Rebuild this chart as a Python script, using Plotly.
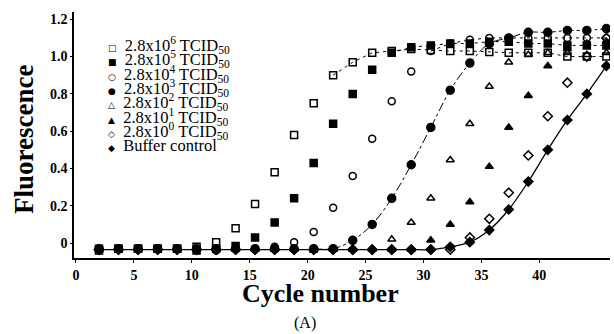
import plotly.graph_objects as go

# ---------------- data ----------------
cycles = [1.99, 3.67, 5.36, 7.05, 8.73, 10.41, 12.10, 13.78, 15.46, 17.15,
          18.83, 20.52, 22.20, 23.89, 25.57, 27.26, 28.94, 30.63, 32.31,
          34.00, 35.68, 37.36, 39.05, 40.73, 42.42, 44.10, 45.79]

s_e6 = [-0.04, -0.03, -0.03, -0.03, -0.03, -0.02, 0.005, 0.08, 0.21, 0.38,
        0.58, 0.75, 0.90, 0.97, 1.02, 1.03, 1.04, 1.035, 1.03, 1.03,
        1.025, 1.02, 1.02, 1.02, 1.00, 1.00, 1.00]
s_e5 = [-0.03, -0.03, -0.03, -0.03, -0.03, -0.04, -0.03, -0.015, 0.03, 0.11,
        0.24, 0.43, 0.64, 0.80, 0.93, 1.02, 1.05, 1.06, 1.07, 1.07,
        1.08, 1.08, 1.07, 1.07, 1.06, 1.06, 1.06]
s_e4 = [-0.03, -0.03, -0.03, -0.03, -0.03, -0.03, -0.04, -0.03, -0.03, -0.02,
        0.005, 0.06, 0.19, 0.36, 0.56, 0.76, 0.92, 1.03, 1.07, 1.09,
        1.10, 1.10, 1.10, 1.10, 1.10, 1.10, 1.10]
s_e3 = [-0.03, -0.03, -0.03, -0.03, -0.03, -0.03, -0.03, -0.03, -0.03, -0.03,
        -0.03, -0.03, -0.03, 0.015, 0.10, 0.24, 0.42, 0.62, 0.82, 0.965,
        1.07, 1.10, 1.13, 1.13, 1.14, 1.14, 1.15]
s_e2 = [-0.03, -0.03, -0.03, -0.03, -0.03, -0.03, -0.03, -0.03, -0.03, -0.03,
        -0.03, -0.03, -0.03, -0.03, -0.03, 0.02, 0.11, 0.24, 0.445, 0.64,
        0.84, 0.97, 1.01, 1.02, 1.02, 1.01, 1.02]
s_e1 = [-0.035, -0.035, -0.035, -0.035, -0.035, -0.035, -0.035, -0.035, -0.035, -0.035,
        -0.035, -0.04, -0.035, -0.035, -0.035, -0.035, -0.035, 0.015, 0.10, 0.22,
        0.41, 0.62, 0.79, 0.95, 1.04, 1.07, 1.08]
s_e0 = [-0.035, -0.035, -0.035, -0.035, -0.035, -0.035, -0.035, -0.035, -0.035, -0.035,
        -0.035, -0.035, -0.035, -0.035, -0.035, -0.035, -0.035, -0.035, -0.035, 0.03,
        0.13, 0.27, 0.47, 0.68, 0.86, 1.00, 1.10]
s_buf = [-0.035, -0.035, -0.035, -0.035, -0.035, -0.035, -0.035, -0.035, -0.035, -0.035,
         -0.035, -0.035, -0.035, -0.035, -0.035, -0.035, -0.035, -0.035, -0.02, 0.005,
         0.07, 0.18, 0.33, 0.50, 0.66, 0.80, 0.95]

labels = ["2.8x10<sup>6</sup> TCID<sub>50</sub>",
          "2.8x10<sup>5</sup> TCID<sub>50</sub>",
          "2.8x10<sup>4</sup> TCID<sub>50</sub>",
          "2.8x10<sup>3</sup> TCID<sub>50</sub>",
          "2.8x10<sup>2</sup> TCID<sub>50</sub>",
          "2.8x10<sup>1</sup> TCID<sub>50</sub>",
          "2.8x10<sup>0</sup> TCID<sub>50</sub>",
          "Buffer control"]
legend_glyphs = ["□", "■", "○", "●", "△", "▲", "◇", "◆"]

x_ticks = [0, 5, 10, 15, 20, 25, 30, 35, 40]
y_ticks = [0, 0.2, 0.4, 0.6, 0.8, 1.0, 1.2]
y_ticktext = ["0", "0.2", "0.4", "0.6", "0.8", "1.0", "1.2"]

series = [s_e6, s_e5, s_e4, s_e3, s_e2, s_e1, s_e0, s_buf]
symbols = ["square-open", "square", "circle-open", "circle",
           "triangle-up-open", "triangle-up", "diamond-open", "diamond"]
sizes = [7, 7, 7, 8, 7, 7, 7, 7]

# ---------------- figure ----------------
fig = go.Figure()
BLACK = "#000000"

# fitted / connecting lines
fig.add_trace(go.Scatter(x=cycles[12:], y=s_e6[12:], mode="lines",
                         line=dict(color=BLACK, width=1, dash="3px,4px"),
                         hoverinfo="skip", showlegend=False))
fig.add_trace(go.Scatter(x=cycles[15:], y=s_e5[15:], mode="lines",
                         line=dict(color=BLACK, width=1, dash="3px,4px"),
                         hoverinfo="skip", showlegend=False))
fig.add_trace(go.Scatter(x=cycles[17:], y=s_e4[17:], mode="lines",
                         line=dict(color=BLACK, width=1, dash="3px,4px"),
                         hoverinfo="skip", showlegend=False))
fig.add_trace(go.Scatter(x=cycles[11:], y=s_e3[11:], mode="lines",
                         line=dict(color=BLACK, width=1, dash="dashdot", shape="spline"),
                         hoverinfo="skip", showlegend=False))
fig.add_trace(go.Scatter(x=cycles, y=s_buf, mode="lines",
                         line=dict(color=BLACK, width=1.3, shape="spline"),
                         hoverinfo="skip", showlegend=False))

for ys, sym, sz, lab in zip(series, symbols, sizes, labels):
    fig.add_trace(go.Scatter(
        x=cycles, y=ys, mode="markers", name=lab, showlegend=False,
        marker=dict(symbol=sym, size=sz, color=BLACK,
                    line=dict(color=BLACK, width=1.5)),
    ))

# plot geometry (pixels)
L, R, T, B = 74, 4, 12, 76
W, H = 614, 334
pw, ph = W - L - R, H - T - B

def px_x(px):
    return (px - L) / pw

def px_y(py):
    return (H - B - py) / ph

annotations = []
# custom legend (compact spacing as in the reference)
for k, (g, lab) in enumerate(zip(legend_glyphs, labels)):
    annotations.append(dict(
        xref="paper", yref="paper", x=px_x(106), y=px_y(45 + 14.3 * k),
        xanchor="left", yanchor="middle", showarrow=False,
        text=f'<span style="font-family:DejaVu Sans;font-size:9px">{g}</span>  {lab}',
        font=dict(family="Liberation Serif", size=16.5, color=BLACK),
    ))

annotations.append(dict(
    xref="paper", yref="paper", x=px_x(320), y=px_y(293),
    xanchor="center", yanchor="middle", showarrow=False,
    text="<b>Cycle number</b>",
    font=dict(family="Liberation Serif", size=26, color=BLACK)))
annotations.append(dict(
    xref="paper", yref="paper", x=px_x(24), y=px_y(140),
    xanchor="center", yanchor="middle", showarrow=False, textangle=-90,
    text="<b>Fluorescence</b>",
    font=dict(family="Liberation Serif", size=27, color=BLACK)))
annotations.append(dict(
    xref="paper", yref="paper", x=px_x(305), y=px_y(323),
    xanchor="center", yanchor="middle", showarrow=False,
    text="(A)",
    font=dict(family="Liberation Serif", size=16, color=BLACK)))

fig.update_layout(
    width=W, height=H,
    margin=dict(l=L, r=R, t=T, b=B, pad=0),
    paper_bgcolor="white", plot_bgcolor="white",
    showlegend=False,
    annotations=annotations,
    xaxis=dict(range=[-0.17, 46.1], tickvals=x_ticks,
               ticktext=[str(v) for v in x_ticks],
               showline=True, linecolor=BLACK, linewidth=1.5,
               ticks="outside", ticklen=3, tickcolor=BLACK,
               showgrid=False, zeroline=False,
               tickfont=dict(family="Liberation Serif", size=14, color=BLACK,
                             weight="bold")),
    yaxis=dict(range=[-0.080, 1.239], tickvals=y_ticks, ticktext=y_ticktext,
               showline=True, linecolor=BLACK, linewidth=1.5,
               ticks="outside", ticklen=2, tickcolor=BLACK,
               showgrid=False, zeroline=False,
               tickfont=dict(family="Liberation Serif", size=14, color=BLACK,
                             weight="bold")),
)

fig.write_html("out.html")
